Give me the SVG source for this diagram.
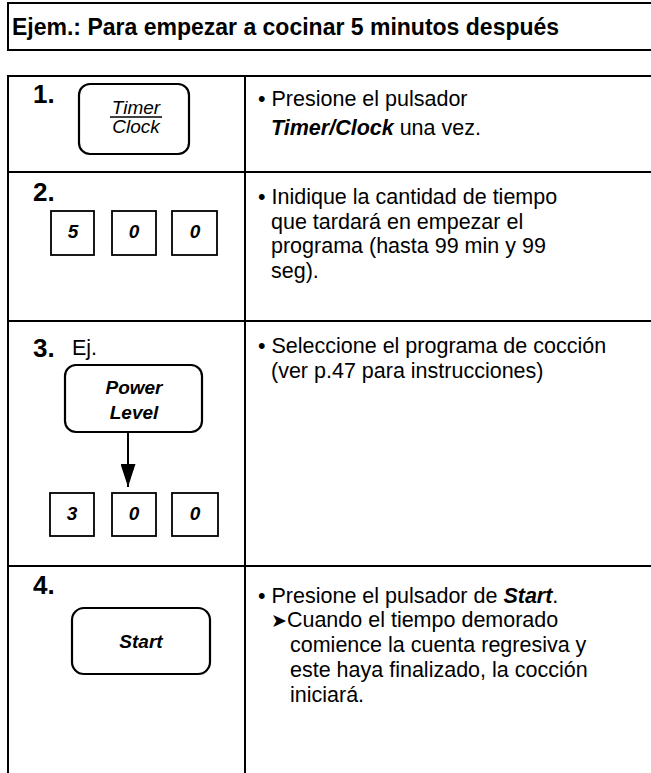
<svg xmlns="http://www.w3.org/2000/svg" width="651" height="773" viewBox="0 0 651 773">
<defs>
<style>
.ln{fill:none;stroke:#000;stroke-width:2}
.btn{fill:#fff;stroke:#000;stroke-width:2.2}
.key{fill:#fff;stroke:#000;stroke-width:1.8}
.t{font-family:"Liberation Sans",Arial,sans-serif;font-size:21.5px;fill:#000}
.h{font-family:"Liberation Sans",Arial,sans-serif;font-size:23px;font-weight:bold;fill:#000}
.n{font-family:"Liberation Sans",Arial,sans-serif;font-size:26px;font-weight:bold;fill:#000}
.bi{font-weight:bold;font-style:italic}
.k{font-family:"Liberation Sans",Arial,sans-serif;font-size:19px;font-weight:bold;font-style:italic;fill:#000;text-anchor:middle}
.bl{font-family:"Liberation Sans",Arial,sans-serif;font-size:19px;font-style:italic;fill:#000;text-anchor:middle}
</style>
<marker id="ah" markerWidth="23" markerHeight="15" refX="23" refY="7.5" orient="auto" markerUnits="userSpaceOnUse" viewBox="0 0 23 15">
<path d="M0,0 L23,7.5 L0,15 Z" fill="#000"/>
</marker>
</defs>
<rect width="651" height="773" fill="#fff"/>
<g id="header">
<rect x="8" y="3" width="700" height="47" class="ln"/>
<text x="12" y="35" class="h">Ejem.: Para empezar a cocinar 5 minutos después</text>
</g>
<g id="table">
<path class="ln" d="M8,773 V76 H651 M245,76 V773 M8,172 H651 M8,321 H651 M8,566 H651"/>
</g>
<g id="step1">
<text x="33" y="103" class="n">1.</text>
<rect x="79" y="84" width="110" height="70" rx="11" class="btn"/>
<text x="136" y="114" class="bl">Timer</text>
<line x1="110" y1="117" x2="162" y2="117" stroke="#000" stroke-width="1.5"/>
<text x="136" y="133" class="bl">Clock</text>
<text x="258" y="106" class="t">• Presione el pulsador</text>
<text x="271" y="135" class="t"><tspan class="bi">Timer/Clock</tspan> una vez.</text>
</g>
<g id="step2">
<text x="33" y="201" class="n">2.</text>
<rect x="51" y="211" width="43" height="44" class="key"/>
<rect x="112" y="211" width="44" height="44" class="key"/>
<rect x="172" y="211" width="45" height="44" class="key"/>
<text x="73" y="238" class="k">5</text>
<text x="134" y="238" class="k">0</text>
<text x="195" y="238" class="k">0</text>
<text x="258" y="204" class="t">• Inidique la cantidad de tiempo</text>
<text x="271" y="229" class="t">que tardará en empezar el</text>
<text x="271" y="253" class="t">programa (hasta 99 min y 99</text>
<text x="271" y="278" class="t">seg).</text>
</g>
<g id="step3">
<text x="33" y="357" class="n">3.</text>
<text x="72" y="355" class="t" font-size="21">Ej.</text>
<rect x="65" y="365" width="137" height="67" rx="11" class="btn"/>
<text x="134" y="394" class="k" font-size="20">Power</text>
<text x="134" y="419" class="k" font-size="20">Level</text>
<rect x="50" y="493" width="44" height="43" class="key"/>
<rect x="112" y="493" width="44" height="43" class="key"/>
<rect x="172" y="493" width="46" height="43" class="key"/>
<text x="72" y="520" class="k">3</text>
<text x="134" y="520" class="k">0</text>
<text x="195" y="520" class="k">0</text>
<text x="258" y="353" class="t">• Seleccione el programa de cocción</text>
<text x="271" y="378" class="t">(ver p.47 para instrucciones)</text>
</g>
<g id="step4">
<text x="33" y="594" class="n">4.</text>
<rect x="72" y="608" width="138" height="66" rx="12" class="btn"/>
<text x="141" y="648" class="k" font-size="20">Start</text>
<text x="258" y="603" class="t">• Presione el pulsador de <tspan class="bi">Start</tspan>.</text>
<text x="271" y="627" class="t"><tspan font-family="DejaVu Sans" font-size="19">➤</tspan>Cuando el tiempo demorado</text>
<text x="290" y="652" class="t">comience la cuenta regresiva y</text>
<text x="290" y="677" class="t">este haya finalizado, la cocción</text>
<text x="290" y="702" class="t">iniciará.</text>
</g>
<g id="connectors">
<line x1="128" y1="432" x2="128" y2="487" stroke="#000" stroke-width="2" marker-end="url(#ah)"/>
</g>
</svg>
